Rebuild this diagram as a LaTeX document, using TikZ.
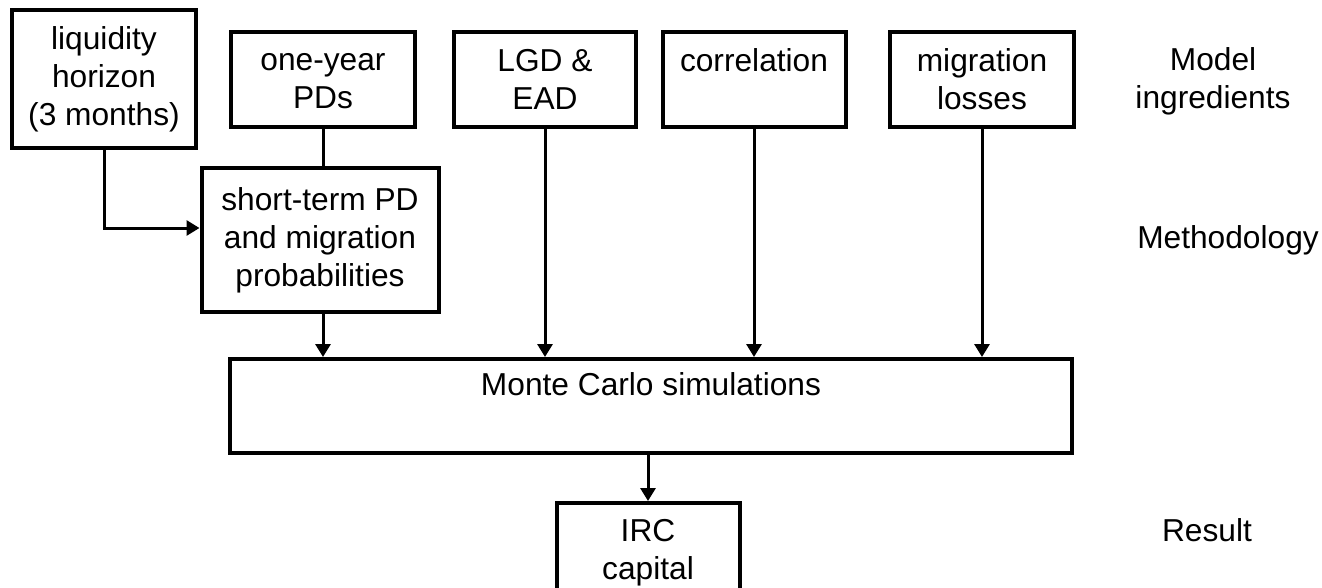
\documentclass[tikz,border=0pt]{standalone}
\usepackage{fontspec}
\setmainfont{Liberation Sans}
\usetikzlibrary{arrows.meta}
\begin{document}
\begin{tikzpicture}[x=1pt,y=-1pt,
  every node/.style={font=\fontsize{31.7}{38}\selectfont, align=center, inner sep=0pt},
  box/.style={draw, line width=4pt, minimum width=#1},
  box/.default=183pt,
  conn/.style={line width=3pt},
  arr/.style={line width=3pt, -{Triangle[width=15pt,length=13pt]}},
  lbl/.style={}]
\clip (0,0) rectangle (1322,587);
\fill[white] (0,0) rectangle (1322,587);
% top row
\node[box=184pt, minimum height=138pt] (liq) at (104,79) {liquidity\\horizon\\(3 months)};
\node[box=184pt, minimum height=95pt] (onepd) at (323,79) {\vphantom{L}one-year\\PDs};
\node[box=182pt, minimum height=95pt] (lgd) at (545,79.5) {LGD \&\\EAD};
\node[box=183pt, minimum height=95pt] (corr) at (754,79.5) {correlation\\\vphantom{losses}};
\node[box=184pt, minimum height=95pt] (migr) at (982,79.5) {migration\\losses};
% methodology
\node[box=237pt, minimum height=144pt] (short) at (320,240) {short-term PD\\and migration\\probabilities};
% monte carlo
\node[box=842pt, minimum height=94pt] (mc) at (651,406) {Monte Carlo simulations\\\vphantom{g}};
% result
\node[box=183pt, minimum height=100pt] (irc) at (648,553) {IRC\\capital};
% labels
\node[lbl] (lmodel) at (1213,81) {Model\\ingredients};
\node[lbl] (lmeth) at (1228,240) {Methodology};
\node[lbl] (lres) at (1207,530) {Result};
% connectors
\draw[arr] (liq.south) |- ([yshift=12pt]short.west);
\draw[conn] (onepd.south) -- (onepd.south |- short.north);
\draw[arr] (onepd.south |- short.south) -- (onepd.south |- mc.north);
\draw[arr] (lgd.south) -- (lgd.south |- mc.north);
\draw[arr] (corr.south) -- (corr.south |- mc.north);
\draw[arr] (migr.south) -- (migr.south |- mc.north);
\draw[arr] (irc.north |- mc.south) -- (irc.north);
\end{tikzpicture}
\end{document}
